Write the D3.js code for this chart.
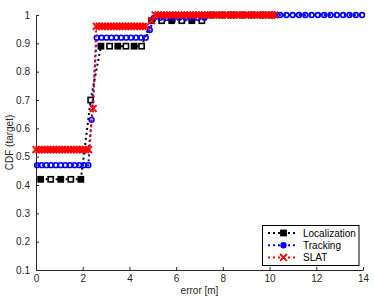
<!DOCTYPE html>
<html>
<head>
<meta charset="utf-8">
<script src="https://cdn.jsdelivr.net/npm/d3@7"></script>
<style>
  body { margin: 0; background: #fff; }
  svg { display: block; font-family: "Liberation Sans", Arial, sans-serif; }
  .axis path, .axis line { stroke: #262626; }
  .axis text { font-size: 10px; fill: #262626; }
</style>
</head>
<body>
<div id="chart"></div>
<script>
// ---- data ----
var locX = [0.2, 0.63, 1.06, 1.49, 1.92, 2.34, 2.78, 3.15, 3.5, 3.85, 4.2, 4.52,
            4.95, 5.38, 5.81, 6.24, 6.67, 7.1, 7.53, 7.96, 8.39, 8.82, 9.25, 9.68, 10.11];
var locY = [0.42, 0.42, 0.42, 0.42, 0.42, 0.70, 0.89, 0.89, 0.89, 0.89, 0.89, 0.89,
            0.98, 0.98, 0.98, 0.98, 0.98, 0.98, 1, 1, 1, 1, 1, 1, 1];

var trkX = [0.05, 0.25, 0.45, 0.65, 0.85, 1.05, 1.25, 1.45, 1.65, 1.85, 2.05, 2.24,
            2.38,
            2.6, 2.81, 3.02, 3.23, 3.44, 3.65, 3.86, 4.07, 4.28, 4.49, 4.7,
            4.87,
            5.05, 5.32, 5.59, 5.86, 6.13, 6.4, 6.67, 6.94, 7.21,
            7.48, 7.75, 8.02, 8.29, 8.56, 8.83, 9.1, 9.37, 9.64, 9.91, 10.18, 10.45,
            10.72, 10.99, 11.26, 11.53, 11.8, 12.07, 12.34, 12.61, 12.88, 13.15, 13.42, 13.69, 13.96];
var trkY = [0.47, 0.47, 0.47, 0.47, 0.47, 0.47, 0.47, 0.47, 0.47, 0.47, 0.47, 0.47,
            0.63,
            0.92, 0.92, 0.92, 0.92, 0.92, 0.92, 0.92, 0.92, 0.92, 0.92, 0.92,
            0.947,
            0.99, 0.99, 0.99, 0.99, 0.99, 0.99, 0.99, 0.99, 0.99,
            1, 1, 1, 1, 1, 1, 1, 1, 1, 1, 1, 1,
            1, 1, 1, 1, 1, 1, 1, 1, 1, 1, 1, 1, 1];

var slatX = [0, 0.125, 0.25, 0.375, 0.5, 0.625, 0.75, 0.875, 1, 1.125, 1.25, 1.375, 1.5, 1.625, 1.75, 1.875, 2, 2.125, 2.25,
             2.45,
             2.58, 2.705, 2.83, 2.955, 3.08, 3.205, 3.33, 3.455, 3.58, 3.705, 3.83, 3.955, 4.08, 4.205, 4.33, 4.455, 4.58, 4.705,
             4.95,
             5.1, 5.225, 5.35, 5.475, 5.6, 5.725, 5.85, 5.975, 6.1, 6.225, 6.35, 6.475, 6.6, 6.725,
             6.85, 6.975, 7.1, 7.225, 7.35, 7.475, 7.6, 7.725, 7.85, 7.975, 8.1, 8.225, 8.35, 8.475,
             8.6, 8.725, 8.85, 8.975, 9.1, 9.225, 9.35, 9.475, 9.6, 9.725, 9.85, 9.975, 10.1, 10.225];
var slatY = [0.525, 0.525, 0.525, 0.525, 0.525, 0.525, 0.525, 0.525, 0.525, 0.525, 0.525, 0.525, 0.525, 0.525, 0.525, 0.525, 0.525, 0.525, 0.525,
             0.67,
             0.96, 0.96, 0.96, 0.96, 0.96, 0.96, 0.96, 0.96, 0.96, 0.96, 0.96, 0.96, 0.96, 0.96, 0.96, 0.96, 0.96, 0.96,
             0.98,
             1, 1, 1, 1, 1, 1, 1, 1, 1, 1, 1, 1, 1, 1,
             1, 1, 1, 1, 1, 1, 1, 1, 1, 1, 1, 1, 1, 1,
             1, 1, 1, 1, 1, 1, 1, 1, 1, 1, 1, 1, 1, 1];

var xTicks = [0, 2, 4, 6, 8, 10, 12, 14];
var yTicks = [0.1, 0.2, 0.3, 0.4, 0.5, 0.6, 0.7, 0.8, 0.9, 1];
var yTickLabels = ["0.1", "0.2", "0.3", "0.4", "0.5", "0.6", "0.7", "0.8", "0.9", "1"];
var seriesNames = ["Localization", "Tracking", "SLAT"];

var width = 374, height = 299;
var margin = { left: 36, right: 363, top: 15, bottom: 270 };

var svg = d3.select('#chart').append('svg')
    .attr('width', width)
    .attr('height', height);

var x = d3.scaleLinear().domain([0, 14]).range([margin.left, margin.right]);
var y = d3.scaleLinear().domain([0.1, 1]).range([margin.bottom, margin.top]);

// axes, matlab style ticks pointing inwards
svg.append('g')
    .attr('class', 'axis')
    .attr('transform', 'translate(0,' + margin.bottom + ')')
    .call(d3.axisBottom(x).tickValues(xTicks).tickSizeInner(-3).tickSizeOuter(0).tickPadding(5));
svg.append('g')
    .attr('class', 'axis')
    .attr('transform', 'translate(' + margin.left + ',0)')
    .call(d3.axisLeft(y).tickValues(yTicks).tickSizeInner(-3).tickSizeOuter(0).tickPadding(6)
        .tickFormat(function(d, i) { return yTickLabels[i]; }));

svg.append('text')
    .attr('x', (margin.left + margin.right) / 2)
    .attr('y', 294)
    .attr('text-anchor', 'middle')
    .style('font-size', '10px')
    .attr('fill', '#262626')
    .text('error [m]');
svg.append('text')
    .attr('transform', 'translate(13,' + ((margin.top + margin.bottom) / 2) + ') rotate(-90)')
    .attr('text-anchor', 'middle')
    .style('font-size', '10px')
    .attr('fill', '#262626')
    .text('CDF (target)');

var line = d3.line()
    .x(function(d) { return x(d[0]); })
    .y(function(d) { return y(d[1]); });

// idx < 0 means legend marker (drawn solid)
function drawMarker(g, kind, color, idx) {
    if (kind === 'square') {
        g.append('rect')
            .attr('x', -2.6).attr('y', -2.6)
            .attr('width', 5.2).attr('height', 5.2)
            .attr('fill', (idx >= 0 && idx % 2) ? '#fff' : color)
            .attr('stroke', color)
            .attr('stroke-width', 1.6);
    } else if (kind === 'circle') {
        g.append('circle')
            .attr('r', 2.4)
            .attr('fill', idx < 0 ? color : 'none')
            .attr('stroke', color)
            .attr('stroke-width', 1.6);
    } else {
        g.append('path')
            .attr('d', 'M-3.4,-3.4L3.4,3.4M-3.4,3.4L3.4,-3.4')
            .attr('stroke', color)
            .attr('stroke-width', 1.9);
    }
}

var series = [
    { name: seriesNames[0], xs: locX, ys: locY, color: '#000', marker: 'square' },
    { name: seriesNames[1], xs: trkX, ys: trkY, color: '#0000ff', marker: 'circle' },
    { name: seriesNames[2], xs: slatX, ys: slatY, color: '#ff0000', marker: 'x' }
];

series.forEach(function(s) {
    var pts = s.xs.map(function(v, i) { return [v, s.ys[i]]; });
    svg.append('path')
        .datum(pts)
        .attr('d', line)
        .attr('fill', 'none')
        .attr('stroke', s.color)
        .attr('stroke-width', 2)
        .attr('stroke-dasharray', '2,3');
    pts.forEach(function(p, i) {
        var g = svg.append('g')
            .attr('transform', 'translate(' + x(p[0]) + ',' + y(p[1]) + ')');
        drawMarker(g, s.marker, s.color, i);
    });
});

// legend
var legend = svg.append('g').attr('transform', 'translate(262.5,225.5)');
legend.append('rect')
    .attr('width', 96.5)
    .attr('height', 40)
    .attr('fill', '#fff')
    .attr('stroke', '#000')
    .attr('stroke-width', 1);
series.forEach(function(s, i) {
    var yy = 7.5 + i * 12.2;
    legend.append('line')
        .attr('x1', 5.5).attr('x2', 35.5)
        .attr('y1', yy).attr('y2', yy)
        .attr('stroke', s.color)
        .attr('stroke-width', 2)
        .attr('stroke-dasharray', '2,3');
    var g = legend.append('g').attr('transform', 'translate(21,' + yy + ')');
    drawMarker(g, s.marker, s.color, -1);
    legend.append('text')
        .attr('x', 40.5)
        .attr('y', yy)
        .attr('dy', '0.35em')
        .style('font-size', '10px')
        .attr('fill', '#000')
        .text(s.name);
});
</script>
</body>
</html>
